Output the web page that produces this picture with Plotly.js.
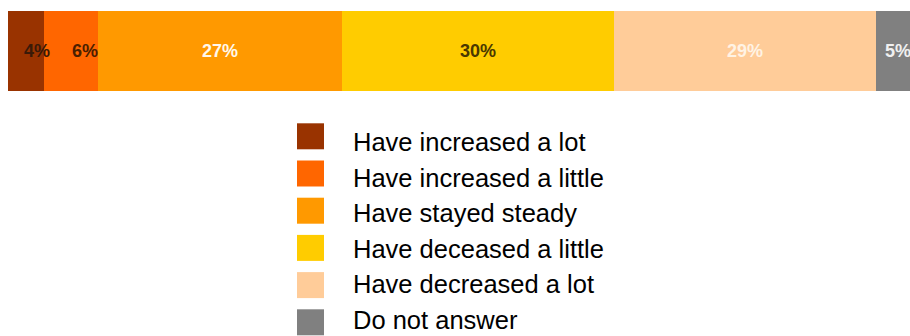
<!DOCTYPE html>
<html>
<head>
<meta charset="utf-8">
<script src="https://cdn.plot.ly/plotly-3.0.1.min.js"></script>
<style>
  html, body { margin: 0; padding: 0; background: #ffffff; }
  #chart { width: 910px; height: 336px; }
</style>
</head>
<body>
<div id="chart"></div>
<script>
// ---- data ----
var categories = [
  "Have increased a lot",
  "Have increased a little",
  "Have stayed steady",
  "Have deceased a little",
  "Have decreased a lot",
  "Do not answer"
];
var values = [4, 6, 27, 30, 29, 5];
var valueLabels = ["4%", "6%", "27%", "30%", "29%", "5%"];

// ---- styles ----
var barColors = ["#993300", "#ff6600", "#ff9900", "#ffcc00", "#ffcc99", "#808080"];
var labelColors = ["#3a1a08", "#4a2000", "#fff8ec", "#4a3800", "#fff3e4", "#f0f0f0"];
var labelShift = [11, 14, 0, 0, 0, 0];

(function () {
  var W = 910, H = 336;
  function px(x) { return x / W; }
  function py(y) { return 1 - y / H; }

  var traces = [];
  for (var i = 0; i < categories.length; i++) {
    traces.push({
      type: "bar",
      orientation: "h",
      name: categories[i],
      x: [values[i]],
      y: [0],
      marker: { color: barColors[i], line: { width: 0 } },
      showlegend: false,
      hoverinfo: "skip"
    });
  }

  var annotations = [];
  var shapes = [];
  var cum = 0;
  for (var j = 0; j < values.length; j++) {
    var mid = cum + values[j] / 2;
    cum += values[j];
    annotations.push({
      xref: "x", yref: "y",
      x: mid, y: 0,
      xshift: labelShift[j],
      text: "<b>" + valueLabels[j] + "</b>",
      showarrow: false,
      xanchor: "center", yanchor: "middle",
      font: { family: "Liberation Sans, Arial, sans-serif", size: 18, color: labelColors[j] }
    });
  }

  // legend built from the category/colour arrays
  var sqLeft = 297, sqW = 27, sqH = 26, sqTop0 = 123.3, sqStep = 37.2;
  var textLeft = 351, textMid0 = 142, textStep = 35.6;
  for (var k = 0; k < categories.length; k++) {
    var rowTop = sqTop0 + k * sqStep;
    shapes.push({
      type: "rect", xref: "paper", yref: "paper",
      x0: px(sqLeft), x1: px(sqLeft + sqW),
      y0: py(rowTop + sqH), y1: py(rowTop),
      fillcolor: barColors[k], line: { width: 0 }
    });
    annotations.push({
      xref: "paper", yref: "paper",
      x: px(textLeft), y: py(textMid0 + k * textStep),
      text: categories[k],
      showarrow: false,
      xanchor: "left", yanchor: "middle",
      font: { family: "Liberation Sans, Arial, sans-serif", size: 25.5, color: "#000000" }
    });
  }

  var layout = {
    width: W, height: H,
    margin: { l: 0, r: 0, t: 0, b: 0, pad: 0 },
    paper_bgcolor: "#ffffff",
    plot_bgcolor: "#ffffff",
    barmode: "stack",
    bargap: 0,
    showlegend: false,
    hovermode: false,
    xaxis: {
      domain: [8 / W, 1],
      range: [0, (W - 8) / 9.04],
      visible: false,
      fixedrange: true
    },
    yaxis: {
      domain: [py(91), py(11)],
      range: [-0.5, 0.5],
      visible: false,
      fixedrange: true
    },
    annotations: annotations,
    shapes: shapes
  };

  Plotly.newPlot("chart", traces, layout, { displayModeBar: false, staticPlot: true });
})();
</script>
</body>
</html>
